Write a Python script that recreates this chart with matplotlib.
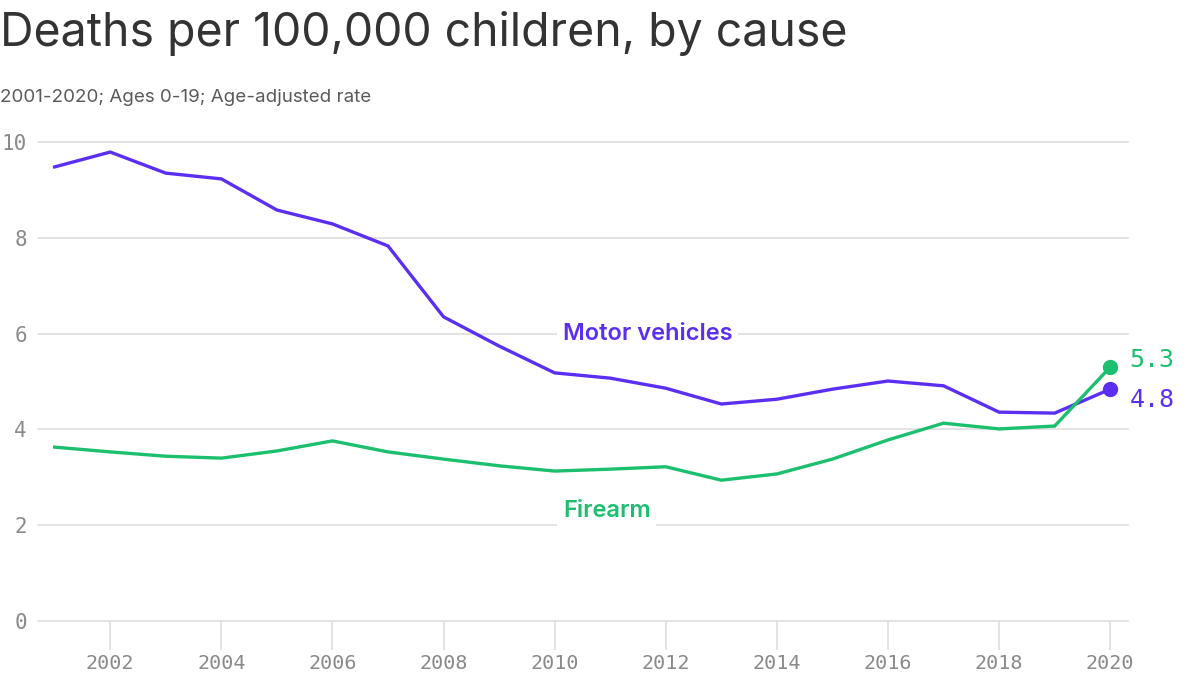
import matplotlib
matplotlib.use("Agg")
import matplotlib.pyplot as plt

years = list(range(2001, 2021))
motor = [9.48, 9.79, 9.35, 9.23, 8.58, 8.29, 7.83, 6.35, 5.74, 5.18,
         5.07, 4.86, 4.53, 4.63, 4.84, 5.01, 4.91, 4.36, 4.34, 4.84]
firearm = [3.63, 3.53, 3.44, 3.40, 3.55, 3.76, 3.53, 3.38, 3.24, 3.13,
           3.17, 3.22, 2.94, 3.07, 3.38, 3.78, 4.13, 4.01, 4.07, 5.30]
end_labels = ["4.8", "5.3"]
yticks = [0, 2, 4, 6, 8, 10]
xticks = list(range(2002, 2021, 2))

purple = "#5b2ff2"
green = "#1bbf6e"
grid = "#dedede"
mono = "DejaVu Sans Mono"

fig = plt.figure(figsize=(12, 6.75), dpi=100)
ax = fig.add_axes([38 / 1200, 1 - 621 / 675, 1090 / 1200, 479 / 675])

ax.plot(years, motor, color=purple, lw=2.4, solid_joinstyle="miter", zorder=3)
ax.plot(years, firearm, color=green, lw=2.4, solid_joinstyle="miter", zorder=3)
ax.plot(years[-1], motor[-1], "o", color=purple, ms=10, zorder=4, clip_on=False)
ax.plot(years[-1], firearm[-1], "o", color=green, ms=10, zorder=4, clip_on=False)

# end labels, pushed apart a little
ax.annotate(end_labels[1], (years[-1], firearm[-1]), xytext=(14, 5),
            textcoords="offset points", color=green, fontsize=18,
            family=mono, va="center", ha="left")
ax.annotate(end_labels[0], (years[-1], motor[-1]), xytext=(14, -8),
            textcoords="offset points", color=purple, fontsize=18,
            family=mono, va="center", ha="left")

ax.text(2010.15, 6.0, "Motor vehicles", color=purple, fontsize=17,
        fontweight="semibold", family="Inter", va="center", ha="left", zorder=2,
        bbox=dict(facecolor="white", edgecolor="none", pad=4))
ax.text(2010.15, 2.3, "Firearm", color=green, fontsize=17,
        fontweight="semibold", family="Inter", va="center", ha="left", zorder=2,
        bbox=dict(facecolor="white", edgecolor="none", pad=4))

ax.set_xlim(2000.7, 2020.32)
ax.set_ylim(0, 10)
ax.set_yticks(yticks)
ax.set_yticklabels([str(v) for v in yticks])
ax.set_xticks(xticks)
ax.set_xticklabels([str(v) for v in xticks])

for v in yticks:
    ax.axhline(v, color=grid, lw=1.2, zorder=1, clip_on=False)
for s in ax.spines.values():
    s.set_visible(False)

ax.tick_params(axis="y", length=0, pad=8, labelsize=15, labelcolor="#8a8a8a")
ax.tick_params(axis="x", length=21, width=1.2, color=grid, pad=3,
               labelsize=14.5, labelcolor="#8a8a8a")
for lab in ax.get_xticklabels() + ax.get_yticklabels():
    lab.set_family(mono)

fig.text(0.0, 1 - 33 / 675, "Deaths per 100,000 children, by cause",
         fontsize=33.4, family="Inter", color="#333333", va="center", ha="left")
fig.text(0.0, 1 - 97 / 675, "2001-2020; Ages 0-19; Age-adjusted rate",
         fontsize=13.5, family="Inter", color="#5a5a5a", va="center", ha="left")

fig.savefig("out.png", dpi=100, facecolor="white")
